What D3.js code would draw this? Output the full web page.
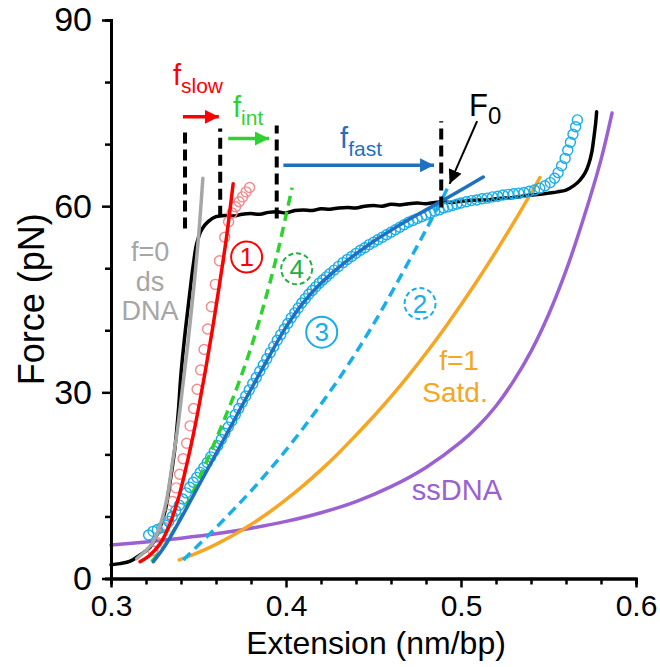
<!DOCTYPE html>
<html>
<head>
<meta charset="utf-8">
<script src="https://cdn.jsdelivr.net/npm/d3@7/dist/d3.min.js"></script>
<style>
	body { margin:0; background:#fff; }
	svg text { font-family:"Liberation Sans", Arial, Helvetica, sans-serif; }
</style>
</head>
<body>
<svg id="chart" width="660" height="667"></svg>
<script>
// ---- data (extension nm/bp, force pN) ----
var xMajor = [0.3, 0.4, 0.5, 0.6];
var xMinor = [0.32, 0.34, 0.36, 0.38, 0.42, 0.44, 0.46, 0.48, 0.52, 0.54, 0.56, 0.58];
var yMajor = [0, 30, 60, 90];
var yMinor = [10, 20, 40, 50, 70, 80];

var measured = [[0.300,2.2],[0.305,2.4],[0.311,2.8],[0.3166,3.8],[0.3223,5.0],[0.327,7.5],[0.331,11],[0.334,16],
	[0.3365,21],[0.3385,27],[0.340,33],[0.3425,40],[0.345,46],[0.347,50.5],[0.349,54],[0.352,56.3],[0.3555,57.5],
	[0.360,58.3],[0.365,58.5],[0.370,58.4],[0.375,58.7],[0.380,58.8],[0.385,58.7],[0.390,59.0],[0.395,59.1],
	[0.400,58.9],[0.405,59.3],[0.410,59.4],[0.415,59.3],[0.420,59.6],[0.425,59.5],[0.430,59.7],[0.435,59.8],
	[0.440,59.7],[0.445,60.0],[0.450,60.1],[0.455,60.0],[0.460,60.3],[0.465,60.2],[0.470,60.4],[0.475,60.5],
	[0.480,60.4],[0.485,60.6],[0.490,60.7],[0.495,60.6],[0.500,60.8],[0.505,60.9],[0.510,61.0],[0.515,61.0],
	[0.520,61.2],[0.525,61.3],[0.530,61.4],[0.535,61.6],[0.540,61.8],[0.545,61.9],[0.550,62.1],[0.555,62.3],
	[0.560,62.6],[0.5645,63.3],[0.568,64.2],[0.571,65.4],[0.573,66.8],[0.5748,68.8],[0.576,71.2],[0.577,73.5],[0.5775,75.2]];

var dsDNA = [[0.3147,3.2],[0.320,4.5],[0.324,5.8],[0.328,8.5],[0.332,13],[0.335,18.5],[0.338,24],[0.341,31],
	[0.344,38],[0.347,46],[0.350,55],[0.3525,64.5]];

var model1 = [[0.3166,2.7],[0.322,3.7],[0.328,5.6],[0.333,8.3],[0.338,12.4],[0.342,16.8],[0.346,21.8],
	[0.350,27.4],[0.354,33.6],[0.358,40.2],[0.362,47.4],[0.366,55.0],[0.3698,63.6]];

var model4 = [[0.3232,2.7],[0.330,5.0],[0.335,7.3],[0.340,9.9],[0.345,12.8],[0.350,15.9],[0.355,19.1],
	[0.360,22.4],[0.365,25.8],[0.370,29.3],[0.375,33.1],[0.380,37.2],[0.385,41.8],[0.390,46.8],[0.395,52.3],
	[0.400,58.5],[0.4035,63.0]];

var model3 = [[0.3242,2.7],[0.330,4.9],[0.335,7.2],[0.340,9.7],[0.345,12.3],[0.350,14.9],[0.355,17.5],
	[0.360,20.1],[0.370,25.3],[0.380,30.5],[0.390,35.6],[0.400,40.5],[0.410,44.5],[0.420,47.6],[0.430,50.1],
	[0.440,52.3],[0.450,54.3],[0.460,56.1],[0.470,57.8],[0.480,59.4],[0.490,61.0],[0.500,62.6],[0.5127,64.7]];

var model2 = [[0.3413,3.0],[0.350,5.4],[0.360,8.2],[0.370,11.1],[0.380,14.1],[0.390,17.3],[0.400,20.7],
	[0.410,24.3],[0.420,28.1],[0.430,32.1],[0.440,36.4],[0.450,41.0],[0.460,45.9],[0.470,51.0],[0.480,56.2],
	[0.490,61.6],[0.4935,63.6]];

var saturated = [[0.339,3.0],[0.350,4.2],[0.360,5.5],[0.370,7.0],[0.380,8.7],[0.390,10.6],[0.400,12.7],
	[0.410,15.0],[0.420,17.5],[0.430,20.2],[0.440,23.1],[0.450,26.1],[0.460,29.3],[0.470,32.7],[0.480,36.3],
	[0.490,40.1],[0.500,44.1],[0.510,48.3],[0.520,52.7],[0.530,57.3],[0.540,62.1],[0.5451,64.6]];

var ssDNA = [[0.300,5.4],[0.320,5.9],[0.340,6.5],[0.360,7.2],[0.380,8.1],[0.400,9.2],[0.420,10.6],[0.440,12.4],
	[0.460,14.8],[0.480,17.9],[0.500,22.0],[0.510,24.6],[0.520,27.8],[0.530,31.8],[0.540,36.6],[0.550,42.5],
	[0.560,49.6],[0.570,58.0],[0.580,67.5],[0.5863,75.0]];

var slowPoints = [[0.3240,4.5],[0.3262,5.8],[0.3283,7.0],[0.3302,8.3],[0.3327,10.3],[0.3352,12.4],[0.3372,14.6],
	[0.3392,16.8],[0.3412,19.3],[0.3432,21.8],[0.3452,24.6],[0.3472,27.4],[0.3492,30.5],[0.3512,33.6],
	[0.3532,36.9],[0.3552,40.2],[0.3574,43.8],[0.3596,47.4],[0.3620,51.2],[0.3650,55.0],[0.3672,57.5],
	[0.3692,58.9],[0.3712,59.9],[0.3732,60.7],[0.3752,61.5],[0.3772,62.3],[0.3792,63.0]];

var fastPoints = [[0.3215,7.0],[0.3240,7.6],[0.3265,7.9],[0.3290,8.2],[0.3310,8.6],[0.3330,9.2],[0.3350,10.0],
	[0.3370,10.9],[0.3390,11.8],[0.3410,12.8],[0.3430,13.8],[0.3450,14.7],[0.3470,15.5],[0.3490,16.3],[0.3510,17.1],
	[0.3530,17.9],[0.3550,18.7],[0.3570,19.6],[0.3590,20.5],[0.3610,21.4],[0.3630,22.4],[0.3650,23.4],[0.3670,24.4],
	[0.3690,25.4],[0.3710,26.4],[0.3730,27.4],[0.3750,28.4],[0.3770,29.4],[0.3790,30.4],[0.3810,31.4],[0.3830,32.4],
	[0.3850,33.4],[0.3870,34.4],[0.3890,35.4],[0.3910,36.4],[0.3930,37.4],[0.3950,38.4],[0.3970,39.3],[0.3990,40.2],
	[0.4010,41.1],[0.4030,42.0],[0.4050,42.8],[0.4070,43.6],[0.4090,44.4],[0.4110,45.1],[0.4130,45.8],[0.4150,46.4],
	[0.4170,47.0],[0.4190,47.6],[0.4210,48.1],[0.4230,48.6],[0.4250,49.1],[0.4275,49.7],[0.4300,50.3],[0.4325,50.9],
	[0.4350,51.4],[0.4375,51.9],[0.4400,52.4],[0.4425,52.9],[0.4450,53.3],[0.4475,53.8],[0.4500,54.2],[0.4525,54.6],
	[0.4550,55.0],[0.4575,55.4],[0.4600,55.8],[0.4625,56.2],[0.4650,56.6],[0.4675,57.0],[0.4700,57.4],[0.4725,57.7],
	[0.4750,58.0],[0.4775,58.3],[0.4800,58.6],[0.4825,58.9],[0.4850,59.2],[0.4875,59.4],[0.4900,59.7],[0.4925,59.9],
	[0.4950,60.1],[0.4975,60.3],[0.5000,60.5],[0.5030,60.7],[0.5060,60.9],[0.5090,61.0],[0.5120,61.2],[0.5150,61.3],
	[0.5180,61.5],[0.5210,61.6],[0.5240,61.8],[0.5270,61.9],[0.5300,62.0],[0.5330,62.1],[0.5360,62.2],[0.5390,62.4],
	[0.5420,62.6],[0.5450,62.9],[0.5480,63.3],[0.5510,63.8],[0.5535,64.5],[0.5555,65.4],[0.5575,66.5],[0.5595,67.7],
	[0.5610,69.0],[0.5625,70.3],[0.5640,71.6],[0.5655,72.8],[0.5665,73.9]];

// phase boundaries (dashed), rate arrows and F0 pointer
var boundaries = [[0.3423,56.4,72.8],[0.3624,58.3,72.5],[0.3947,58.0,73.0],[0.4887,59.8,73.7]];
var rateArrows = [["slow",0.3411,0.3616,74.4],["int",0.367,0.3903,70.9],["fast",0.3985,0.4846,66.6]];
var f0Arrow = [[0.5092,73.7],[0.4935,63.6]];

// text labels
var rateLabels = [["slow",0.3354,79.5],["int",0.3697,74.3],["fast",0.4309,69.4]];
var circledLabels = [["1",0.3775,51.8],["4",0.4061,49.9],["3",0.4204,39.7],["2",0.4766,44.3]];
var curveLabels = [
	["f=0",0.3223,51.1,"grey"],["ds",0.3223,46.4,"grey"],["DNA",0.3223,41.7,"grey"],
	["f=1",0.4989,33.6,"satd"],["Satd.",0.4966,28.4,"satd"],
	["ssDNA",0.4977,12.6,"ss"]];

// ---- styles ----
var colors = {
	black:"#000", grey:"#a6a6a6", red:"#ff0000", pink:"#f4898b", green:"#2fd12f", greenDark:"#22b040",
	blue:"#1f70c1", sky:"#18aee8", satd:"#f5a623", ss:"#9b60d2"
};
var rateColors = {slow:colors.red, int:colors.green, fast:colors.blue};
var circledColors = {"1":colors.red, "4":colors.greenDark, "3":colors.sky, "2":colors.sky};
var circledDashed = {"1":false, "4":true, "3":false, "2":true};
var labelSizes = {grey:27, satd:28, ss:29};

var svg = d3.select("#chart");

var x = d3.scaleLinear().domain([0.3, 0.6]).range([111, 636]);
var y = d3.scaleLinear().domain([0, 90]).range([578.5, 20]);

var line = d3.line()
	.x(function(d){ return x(d[0]); })
	.y(function(d){ return y(d[1]); })
	.curve(d3.curveCatmullRom);

var defs = svg.append("defs");
function arrowHead(id, color, w, h)
{
	defs.append("marker")
		.attr("id", id)
		.attr("markerUnits", "userSpaceOnUse")
		.attr("viewBox", "0 0 10 10")
		.attr("refX", 10).attr("refY", 5)
		.attr("markerWidth", w).attr("markerHeight", h)
		.attr("orient", "auto")
		.append("path")
		.attr("d", "M0,0L10,5L0,10Z")
		.attr("fill", color);
}
arrowHead("head-slow", colors.red, 14, 14);
arrowHead("head-int", colors.green, 14, 14);
arrowHead("head-fast", colors.blue, 14, 14);
arrowHead("head-f0", colors.black, 14, 14);

// ---- curves ----
function drawCurve(data, color, width, dash)
{
	svg.append("path")
		.datum(data)
		.attr("d", line)
		.attr("fill", "none")
		.attr("stroke", color)
		.attr("stroke-width", width)
		.attr("stroke-dasharray", dash || null)
		.attr("stroke-linecap", dash ? "butt" : "round");
}

drawCurve(ssDNA, colors.ss, 3.5);
drawCurve(saturated, colors.satd, 3.5);
drawCurve(measured, colors.black, 3.5);

function drawPoints(data, color)
{
	svg.append("g").selectAll("circle").data(data).enter().append("circle")
		.attr("cx", function(d){ return x(d[0]); })
		.attr("cy", function(d){ return y(d[1]); })
		.attr("r", 5)
		.attr("fill", "none")
		.attr("stroke", color)
		.attr("stroke-width", 1.4);
}
drawPoints(slowPoints, colors.pink);
drawPoints(fastPoints, colors.sky);

drawCurve(dsDNA, colors.grey, 3.5);
drawCurve(model1, colors.red, 3.5);
drawCurve(model4, colors.green, 3.5, "10,6");
drawCurve(model2, colors.sky, 3.5, "10,6");
drawCurve(model3, colors.blue, 3.5);

// ---- annotations ----
svg.append("g").selectAll("line").data(boundaries).enter().append("line")
	.attr("x1", function(d){ return x(d[0]); })
	.attr("x2", function(d){ return x(d[0]); })
	.attr("y1", function(d){ return y(d[1]); })
	.attr("y2", function(d){ return y(d[2]); })
	.attr("stroke", colors.black)
	.attr("stroke-width", 4)
	.attr("stroke-dasharray", "11,6");

svg.append("g").selectAll("line").data(rateArrows).enter().append("line")
	.attr("x1", function(d){ return x(d[1]); })
	.attr("x2", function(d){ return x(d[2]); })
	.attr("y1", function(d){ return y(d[3]); })
	.attr("y2", function(d){ return y(d[3]); })
	.attr("stroke", function(d){ return rateColors[d[0]]; })
	.attr("stroke-width", 3.5)
	.attr("marker-end", function(d){ return "url(#head-" + d[0] + ")"; });

svg.append("line")
	.attr("x1", x(f0Arrow[0][0])).attr("y1", y(f0Arrow[0][1]))
	.attr("x2", x(f0Arrow[1][0])).attr("y2", y(f0Arrow[1][1]))
	.attr("stroke", colors.black)
	.attr("stroke-width", 2)
	.attr("marker-end", "url(#head-f0)");

var rl = svg.append("g").selectAll("text").data(rateLabels).enter().append("text")
	.attr("x", function(d){ return x(d[1]); })
	.attr("y", function(d){ return y(d[2]); })
	.attr("fill", function(d){ return rateColors[d[0]]; })
	.attr("font-size", 29);
rl.append("tspan").text("f");
rl.append("tspan").attr("font-size", 21).attr("dy", 8).text(function(d){ return d[0]; });

var f0 = svg.append("text")
	.attr("x", x(0.5046)).attr("y", y(74.5))
	.attr("fill", colors.black)
	.attr("font-size", 31);
f0.append("tspan").text("F");
f0.append("tspan").attr("font-size", 24).attr("dy", 8).text("0");

var cl = svg.append("g").selectAll("g").data(circledLabels).enter().append("g")
	.attr("transform", function(d){ return "translate(" + x(d[1]) + "," + y(d[2]) + ")"; });
cl.append("circle")
	.attr("r", 15.5)
	.attr("fill", "none")
	.attr("stroke", function(d){ return circledColors[d[0]]; })
	.attr("stroke-width", 2)
	.attr("stroke-dasharray", function(d){ return circledDashed[d[0]] ? "5,3" : null; });
cl.append("text")
	.text(function(d){ return d[0]; })
	.attr("text-anchor", "middle")
	.attr("y", 9)
	.attr("font-size", 26)
	.attr("fill", function(d){ return circledColors[d[0]]; });

svg.append("g").selectAll("text").data(curveLabels).enter().append("text")
	.text(function(d){ return d[0]; })
	.attr("x", function(d){ return x(d[1]); })
	.attr("y", function(d){ return y(d[2]); })
	.attr("text-anchor", "middle")
	.attr("font-size", function(d){ return labelSizes[d[3]]; })
	.attr("fill", function(d){ return colors[d[3]]; });

// ---- axes ----
function styleAxis(size)
{
	return function(g)
	{
		g.select(".domain").attr("stroke-width", 3).attr("stroke", "#000");
		g.selectAll(".tick line").attr("stroke-width", 2.5).attr("stroke", "#000");
		g.selectAll(".tick text").attr("font-size", size).attr("fill", "#000")
			.attr("font-family", "'Liberation Sans', Arial, sans-serif");
	};
}

svg.append("g").attr("transform", "translate(0," + y(0) + ")")
	.call(d3.axisBottom(x).tickValues(xMinor).tickSize(6).tickFormat(""))
	.call(styleAxis(30));
svg.append("g").attr("transform", "translate(0," + y(0) + ")")
	.call(d3.axisBottom(x).tickValues(xMajor).tickSize(9).tickSizeOuter(0).tickPadding(7).tickFormat(d3.format(".1f")))
	.call(styleAxis(30));
svg.append("g").attr("transform", "translate(" + x(0.3) + ",0)")
	.call(d3.axisLeft(y).tickValues(yMinor).tickSize(6).tickFormat(""))
	.call(styleAxis(34));
svg.append("g").attr("transform", "translate(" + x(0.3) + ",0)")
	.call(d3.axisLeft(y).tickValues(yMajor).tickSize(9).tickSizeOuter(0).tickPadding(10))
	.call(styleAxis(34));

svg.append("text")
	.attr("x", 376)
	.attr("y", 654)
	.attr("text-anchor", "middle")
	.attr("font-size", 32)
	.text("Extension (nm/bp)");

svg.append("text")
	.attr("transform", "translate(44," + y(45) + ") rotate(-90)")
	.attr("text-anchor", "middle")
	.attr("font-size", 36)
	.text("Force (pN)");
</script>
</body>
</html>
